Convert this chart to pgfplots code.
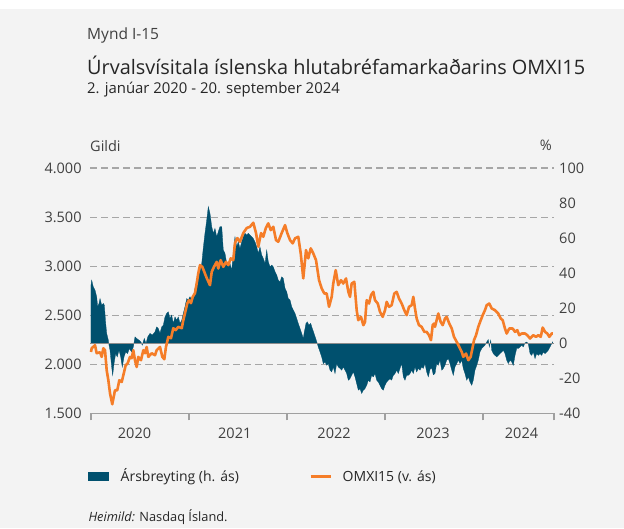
\documentclass[border=0pt]{standalone}
\usepackage{fontspec}
\setmainfont{Open Sans}
\usepackage{pgfplots}
\pgfplotsset{compat=1.18}
\definecolor{bgc}{RGB}{243,243,243}
\definecolor{areablue}{RGB}{0,80,110}
\definecolor{omxorange}{RGB}{245,125,40}
\definecolor{gridgray}{RGB}{166,166,166}
\definecolor{axgray}{RGB}{160,160,160}
\definecolor{zerogray}{RGB}{140,140,140}
\definecolor{txt}{RGB}{64,64,64}
\definecolor{ttl}{RGB}{38,38,38}

\pgfplotstableread{
x y
2020.000 2125
2020.007 2163
2020.041 2194
2020.058 2112
2020.092 2122
2020.109 2075
2020.126 2163
2020.143 2143
2020.160 1939
2020.177 1837
2020.194 1704
2020.217 1592
2020.245 1735
2020.268 1735
2020.289 1837
2020.313 1819
2020.330 1888
2020.354 1990
2020.374 2010
2020.398 2075
2020.415 2061
2020.432 2143
2020.449 2041
2020.466 1972
2020.483 2075
2020.510 2041
2020.534 2143
2020.551 2112
2020.568 2176
2020.585 2075
2020.619 2112
2020.653 2092
2020.670 2143
2020.704 2176
2020.728 2075
2020.748 2051
2020.765 2176
2020.789 2279
2020.816 2265
2020.840 2367
2020.864 2347
2020.891 2381
2020.926 2367
2020.942 2449
2020.959 2520
2020.983 2622
2021.000 2653
2021.020 2622
2021.038 2687
2021.061 2724
2021.079 2827
2021.095 2929
2021.112 3010
2021.136 2993
2021.156 2942
2021.181 2878
2021.214 2806
2021.232 2942
2021.255 2993
2021.283 3044
2021.299 2976
2021.323 3061
2021.350 2993
2021.378 3044
2021.401 3010
2021.426 3079
2021.452 3061
2021.469 3235
2021.493 3286
2021.520 3248
2021.554 3337
2021.589 3388
2021.622 3401
2021.656 3442
2021.684 3337
2021.707 3197
2021.735 3337
2021.758 3299
2021.783 3385
2021.809 3436
2021.834 3367
2021.860 3401
2021.888 3265
2021.911 3248
2021.946 3337
2021.980 3418
2022.003 3337
2022.031 3265
2022.058 3232
2022.082 3283
2022.115 3299
2022.140 3130
2022.166 2875
2022.194 3163
2022.217 3079
2022.242 3181
2022.268 3130
2022.296 3061
2022.327 2857
2022.354 2772
2022.381 2721
2022.405 2721
2022.429 2585
2022.456 2687
2022.472 2823
2022.497 2959
2022.523 2806
2022.551 2857
2022.574 2823
2022.602 2874
2022.626 2738
2022.643 2687
2022.660 2823
2022.687 2840
2022.711 2551
2022.727 2449
2022.755 2483
2022.779 2398
2022.796 2432
2022.813 2653
2022.837 2619
2022.857 2704
2022.881 2738
2022.898 2653
2022.926 2619
2022.949 2534
2022.977 2483
2023.000 2551
2023.017 2636
2023.041 2585
2023.068 2602
2023.095 2721
2023.119 2738
2023.143 2670
2023.170 2619
2023.197 2551
2023.221 2500
2023.245 2585
2023.272 2602
2023.289 2687
2023.306 2568
2023.323 2466
2023.347 2398
2023.374 2381
2023.401 2330
2023.425 2330
2023.449 2296
2023.469 2245
2023.487 2400
2023.503 2415
2023.510 2381
2023.544 2517
2023.568 2432
2023.589 2398
2023.612 2466
2023.629 2483
2023.656 2415
2023.681 2364
2023.704 2279
2023.732 2228
2023.758 2176
2023.783 2125
2023.799 2075
2023.827 2109
2023.850 2041
2023.874 2075
2023.895 2176
2023.908 2245
2023.929 2296
2023.952 2381
2023.977 2449
2023.997 2500
2024.020 2551
2024.038 2602
2024.064 2619
2024.089 2568
2024.122 2551
2024.156 2517
2024.181 2466
2024.201 2449
2024.224 2364
2024.242 2313
2024.268 2364
2024.303 2364
2024.327 2330
2024.350 2347
2024.370 2296
2024.395 2313
2024.429 2313
2024.452 2296
2024.480 2262
2024.513 2296
2024.541 2279
2024.564 2296
2024.589 2279
2024.609 2374
2024.633 2330
2024.656 2313
2024.677 2279
2024.701 2313
2024.714 2313
}\omxi

\pgfplotstableread{
x y
2020.000 0
2020.000 33.1
2020.007 36.0
2020.023 32.2
2020.041 30.3
2020.058 26.5
2020.068 20.8
2020.082 22.7
2020.092 25.5
2020.109 21.7
2020.126 22.7
2020.136 21.7
2020.150 11.3
2020.160 5.6
2020.177 1.7
2020.184 -1.1
2020.194 -4.0
2020.211 -13.5
2020.221 -18.3
2020.235 -11.6
2020.252 -5.9
2020.268 -7.8
2020.286 -4.0
2020.303 -7.8
2020.319 -13.5
2020.337 -7.8
2020.354 -5.0
2020.374 -5.9
2020.391 -3.0
2020.415 -5.0
2020.432 -2.1
2020.449 3.6
2020.466 2.7
2020.490 1.7
2020.510 0.7
2020.523 -1.1
2020.544 2.7
2020.561 -0.2
2020.579 3.6
2020.602 5.6
2020.626 4.6
2020.653 6.5
2020.670 9.3
2020.687 8.4
2020.704 5.6
2020.721 9.3
2020.738 10.3
2020.755 15.0
2020.772 17.0
2020.789 17.9
2020.806 14.1
2020.823 16.0
2020.840 11.3
2020.857 15.0
2020.874 13.1
2020.891 15.0
2020.908 11.3
2020.926 13.1
2020.942 17.0
2020.959 20.8
2020.977 25.5
2020.993 24.6
2021.010 26.5
2021.028 24.6
2021.044 26.5
2021.061 31.3
2021.079 36.0
2021.095 38.9
2021.112 40.8
2021.130 45.5
2021.146 54.5
2021.163 62.7
2021.181 70.3
2021.197 77.9
2021.214 74.1
2021.232 66.5
2021.248 62.7
2021.265 65.5
2021.283 60.7
2021.299 63.6
2021.316 66.5
2021.334 66.5
2021.350 53.1
2021.367 51.3
2021.385 45.5
2021.401 43.6
2021.418 45.5
2021.436 41.7
2021.452 51.3
2021.469 60.7
2021.487 55.0
2021.503 57.9
2021.520 54.1
2021.538 57.9
2021.554 60.7
2021.571 62.7
2021.589 61.7
2021.605 62.7
2021.622 61.7
2021.640 60.7
2021.656 59.8
2021.673 57.9
2021.691 55.0
2021.707 51.3
2021.724 55.0
2021.742 50.3
2021.758 48.4
2021.776 45.5
2021.793 53.1
2021.809 46.5
2021.827 43.6
2021.844 44.6
2021.860 43.6
2021.878 40.8
2021.895 38.9
2021.911 36.0
2021.929 35.0
2021.946 37.9
2021.962 37.0
2021.980 31.3
2021.997 29.3
2022.013 25.5
2022.031 24.6
2022.048 20.8
2022.064 18.9
2022.082 17.0
2022.099 14.1
2022.115 11.3
2022.133 8.4
2022.150 5.6
2022.166 2.7
2022.177 6.5
2022.194 11.3
2022.207 12.2
2022.224 10.3
2022.242 11.3
2022.258 8.4
2022.276 5.6
2022.293 2.7
2022.309 -0.2
2022.319 -2.1
2022.337 -5.0
2022.354 -7.8
2022.370 -11.6
2022.388 -10.7
2022.405 -12.6
2022.421 -11.6
2022.439 -15.4
2022.456 -16.4
2022.472 -13.5
2022.490 -17.3
2022.507 -11.6
2022.523 -13.5
2022.541 -14.4
2022.558 -15.4
2022.574 -13.5
2022.592 -15.4
2022.609 -17.3
2022.626 -21.1
2022.643 -20.2
2022.660 -18.3
2022.677 -16.4
2022.694 -19.2
2022.711 -23.0
2022.728 -26.8
2022.745 -25.9
2022.762 -28.7
2022.779 -26.8
2022.796 -25.9
2022.813 -24.0
2022.830 -21.1
2022.847 -22.1
2022.864 -18.3
2022.881 -19.2
2022.898 -17.3
2022.915 -21.1
2022.932 -22.1
2022.949 -24.0
2022.966 -25.9
2022.983 -26.8
2023.000 -24.0
2023.017 -22.1
2023.034 -21.1
2023.051 -20.2
2023.068 -21.1
2023.085 -18.3
2023.102 -17.3
2023.119 -15.4
2023.136 -17.3
2023.153 -14.4
2023.170 -11.6
2023.187 -19.2
2023.204 -21.1
2023.221 -18.3
2023.238 -18.3
2023.255 -17.3
2023.272 -15.4
2023.289 -17.3
2023.306 -13.5
2023.323 -16.4
2023.340 -14.4
2023.357 -15.4
2023.374 -13.5
2023.391 -14.4
2023.408 -11.6
2023.425 -16.4
2023.442 -19.2
2023.459 -15.0
2023.476 -14.0
2023.493 -18.0
2023.510 -17.3
2023.527 -11.6
2023.544 -12.6
2023.561 -9.7
2023.579 -15.4
2023.595 -14.4
2023.612 -12.6
2023.629 -9.7
2023.646 -8.8
2023.663 -11.6
2023.681 -15.4
2023.697 -18.3
2023.714 -13.5
2023.732 -11.6
2023.748 -9.7
2023.765 -11.6
2023.783 -9.7
2023.799 -14.4
2023.816 -17.3
2023.834 -21.1
2023.850 -19.2
2023.867 -22.1
2023.885 -24.0
2023.901 -21.1
2023.918 -15.4
2023.936 -12.6
2023.952 -9.7
2023.969 -5.0
2023.987 -3.0
2024.003 -2.1
2024.020 -1.1
2024.038 0.7
2024.054 2.1
2024.064 -2.1
2024.079 1.7
2024.089 -4.0
2024.105 -5.9
2024.122 -6.9
2024.140 -7.8
2024.156 -6.9
2024.173 -5.9
2024.191 -5.0
2024.207 -4.0
2024.224 -5.9
2024.242 -9.7
2024.258 -11.6
2024.276 -9.7
2024.293 -10.7
2024.309 -12.6
2024.327 -6.9
2024.344 -3.0
2024.360 -3.0
2024.378 -2.1
2024.395 -1.1
2024.411 -2.1
2024.429 0.2
2024.446 0.7
2024.462 -0.2
2024.480 -5.9
2024.497 -6.9
2024.513 -5.0
2024.531 -8.8
2024.548 -5.9
2024.564 -6.9
2024.582 -5.9
2024.599 -6.9
2024.615 -5.0
2024.633 -5.9
2024.650 -5.0
2024.666 -4.0
2024.684 -2.1
2024.701 -0.2
2024.711 0.7
2024.711 0
}\arsb

\begin{document}
\begin{tikzpicture}
\fill[white] (0pt,0pt) rectangle (624pt,528pt);
\fill[bgc] (0pt,0pt) rectangle (624pt,519pt);

\node[anchor=base west, inner sep=0pt, text=txt, font=\fontsize{15.5}{18}\selectfont] at (87pt,488pt) {Mynd I-15};
\node[anchor=base west, inner sep=0pt, text=ttl, font=\fontsize{19.9}{23}\selectfont] at (87pt,453pt) {Úrvalsvísitala íslenska hlutabréfamarkaðarins OMXI15};
\node[anchor=base west, inner sep=0pt, text=ttl, font=\fontsize{14.9}{17}\selectfont] at (87pt,434.5pt) {2. janúar 2020 - 20. september 2024};
\node[anchor=base west, inner sep=0pt, text=txt, font=\fontsize{14.5}{17}\selectfont] at (90pt,376.5pt) {Gildi};
\node[anchor=base east, inner sep=0pt, text=txt, font=\fontsize{14.5}{17}\selectfont] at (552pt,377pt) {\%};

\pgfplotsset{
  base/.style={
    at={(90pt,114.7pt)}, anchor=south west,
    scale only axis, width=464pt, height=245.3pt,
    xmin=2019.9898, xmax=2024.7245,
    clip=false,
    ticklabel style={text=txt, font=\fontsize{14.5}{17}\selectfont},
  }
}

% left axis: grid, x axis, labels
\begin{axis}[base,
  ymin=1500, ymax=4000,
  ytick={1500,2000,2500,3000,3500,4000},
  yticklabels={1.500,2.000,2.500,3.000,3.500,4.000},
  ymajorgrids,
  grid style={gridgray, line width=1.1pt, dash pattern=on 6.5pt off 4.5pt},
  axis x line*=bottom, axis y line*=left,
  y axis line style={draw=none},
  x axis line style={axgray, line width=1.3pt},
  ytick style={draw=none},
  yticklabel style={anchor=east, inner sep=0pt, xshift=-4pt},
  xtick={2020.444,2021.467,2022.480,2023.490,2024.393},
  xticklabels={2020,2021,2022,2023,2024},
  major x tick style={draw=none},
  minor xtick={2020,2021,2022,2023,2024,2024.7245},
  minor x tick style={axgray, line width=1.2pt},
  minor tick length=7pt,
  tick align=outside,
  xticklabel style={anchor=base, inner sep=0pt, yshift=-20.7pt},
]
\end{axis}

% right axis: annual change area
\begin{axis}[base,
  ymin=-40, ymax=100,
  ytick={-40,-20,0,20,40,60,80,100},
  yticklabels={-40,-20,0,20,40,60,80,100},
  axis x line=none, axis y line*=right,
  y axis line style={draw=none},
  ytick style={draw=none},
  yticklabel style={anchor=west, inner sep=0pt, xshift=5pt},
]
\addplot[fill=areablue, draw=areablue, line width=0.3pt] table {\arsb};
\addplot[zerogray, line width=1.3pt] coordinates {(2019.9898,0) (2024.7245,0)};
\end{axis}

% OMXI15 line on left scale
\begin{axis}[base,
  ymin=1500, ymax=4000,
  hide axis,
]
\addplot[omxorange, line width=2.6pt, line join=round] table {\omxi};
\end{axis}

% legend
\fill[areablue] (88pt,47.3pt) rectangle (109pt,55.7pt);
\node[anchor=base west, inner sep=0pt, text=ttl, font=\fontsize{14}{17}\selectfont] at (120.5pt,46.3pt) {Ársbreyting (h. ás)};
\draw[omxorange, line width=3.2pt] (310.7pt,51.5pt) -- (330.7pt,51.5pt);
\node[anchor=base west, inner sep=0pt, text=ttl, font=\fontsize{14}{17}\selectfont] at (342.5pt,46.3pt) {OMXI15 (v. ás)};
\node[anchor=base west, inner sep=0pt, text=ttl, font=\fontsize{12.8}{15}\selectfont] at (88.3pt,6.3pt) {\textit{Heimild:} Nasdaq Ísland.};
\end{tikzpicture}
\end{document}
